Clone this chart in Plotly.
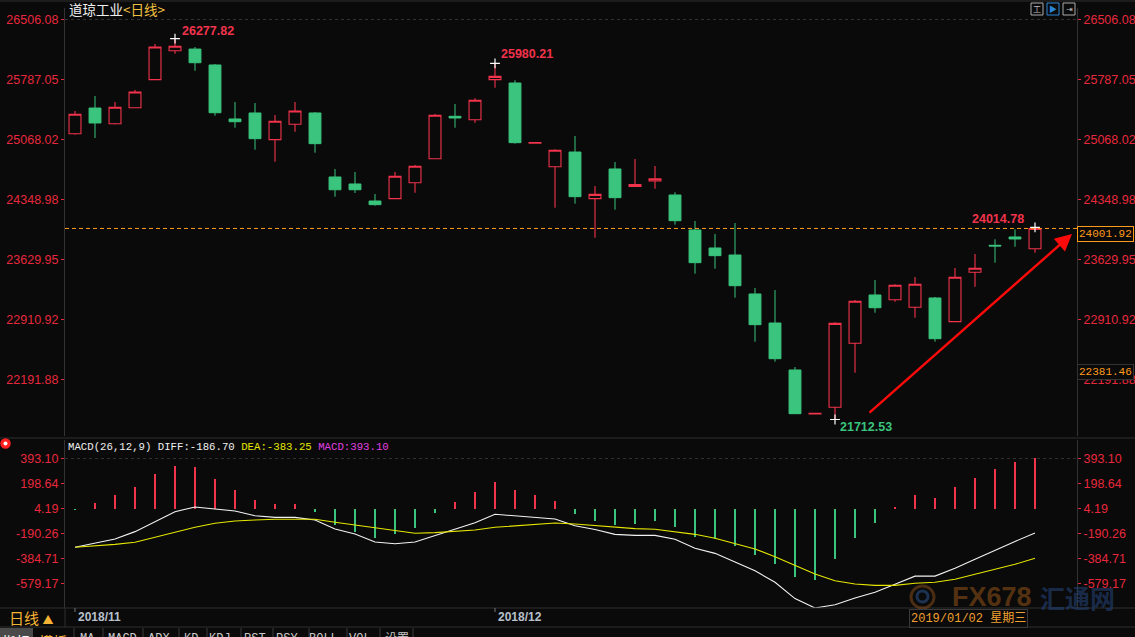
import plotly.graph_objects as go
from datetime import date

# ---------------- data ----------------
dates = (["2018-11-%02d" % d for d in [1, 2, 5, 6, 7, 8, 9, 12, 13, 14, 15, 16, 19, 20, 21, 23, 26, 27, 28, 29, 30]]
         + ["2018-12-%02d" % d for d in [3, 4, 5, 6, 7, 10, 11, 12, 13, 14, 17, 18, 19, 20, 21, 24, 25, 26, 27, 28, 31]]
         + ["2019-01-%02d" % d for d in [2, 3, 4, 7, 8, 9, 10]])

opens = [25137, 25445, 25257, 25449, 25785, 26132, 26152, 25961, 25314, 25386,
         25066, 25250, 25386, 24619, 24535, 24331, 24359, 24550, 24838, 25346,
         25305, 25785, 25745, 25024, 24742, 24918, 24359, 24715, 24505, 24570,
         24403, 23984, 23768, 23684, 23217, 22869, 22306, 21780, 21859, 22626,
         23205, 23148, 23057, 23169, 22885, 23477, 23800, 23900, 23759]
highs = [25410, 25589, 25517, 25661, 26212, 26277.82, 26176, 25973, 25517, 25505,
         25362, 25517, 25398, 24714, 24678, 24415, 24678, 24762, 25374, 25493,
         25562, 25980.21, 25778, 25030, 24951, 25110, 24511, 24798, 24834, 24750,
         24435, 24091, 23936, 24067, 23288, 23264, 22342, 21786, 22877, 23145,
         23384, 23333, 23420, 23181, 23528, 23696, 23872, 23992, 24014.78]
lows = [25125, 25086, 25248, 25445, 25781, 26096, 25892, 25353, 25209, 24946,
        24802, 25161, 24910, 24382, 24427, 24275, 24355, 24430, 24834, 25209,
        25269, 25689, 25018, 25024, 24251, 24299, 23891, 24227, 24502, 24478,
        24047, 23460, 23520, 23172, 22645, 22405, 21778, 21780, 21712.53, 22273,
        22992, 23124, 22933, 22645, 22881, 23304, 23592, 23783, 23711]
closes = [25370, 25266, 25454, 25637, 26176, 26185, 25988, 25389, 25281, 25078,
          25286, 25410, 25018, 24466, 24466, 24287, 24627, 24747, 25358, 25326,
          25538, 25825, 25030, 25030, 24939, 24383, 24411, 24371, 24527, 24597,
          24095, 23592, 23676, 23316, 22849, 22441, 21782, 21786, 22865, 23129,
          23052, 23321, 23333, 22681, 23417, 23525, 23792, 23876, 24001.92]

macd_hist = [-8, 49, 109, 171, 275, 334, 327, 233, 148, 70, 39, 39, -21, -124, -176,
             -223, -192, -145, -29, 57, 135, 210, 148, 109, 62, -39, -93, -124, -117,
             -93, -140, -218, -233, -285, -358, -425, -527, -552, -386, -223, -106, 16,
             109, 86, 171, 241, 311, 366, 393.10]
diff = [-298, -267, -233, -176, -98, -21, 16, -2, -16, -52, -65, -65, -86, -156, -194,
        -257, -270, -257, -205, -156, -107, -41, -54, -65, -78, -130, -160, -197, -205,
        -205, -235, -306, -345, -412, -480, -570, -697, -770, -745, -692, -648, -586,
        -522, -522, -460, -390, -318, -252, -186.70]
dea = [-298, -288, -275, -259, -220, -179, -142, -111, -93, -86, -80, -80, -80, -103,
       -124, -145, -166, -189, -184, -171, -163, -142, -130, -122, -109, -117, -130,
       -140, -153, -158, -179, -197, -228, -267, -311, -371, -438, -506, -558, -583,
       -594, -594, -578, -570, -547, -508, -469, -430, -383.25]

price_ticks = [26506.08, 25787.05, 25068.02, 24348.98, 23629.95, 22910.92, 22191.88]
macd_ticks = [393.10, 198.64, 4.19, -190.26, -384.71, -579.17]
cursor_index = 42
extra_price_label = 22381.46
tabs = ["MA", "MACD", "ADX", "KD", "KDJ", "RST", "PSY", "BOLL", "VOL", "设置"]

# ---------------- styling / geometry ----------------
W, H = 1135, 637
ML, MR = 65, 58
PW = W - ML - MR
BG = "#0a0a0a"
RED = "#f2334c"
LBL_RED = "#e8283c"
GREEN = "#3ac47d"
ORANGE = "#ff9a1a"
LINE = "#2e2e2e"


def pxp(x):
    return (x - ML) / PW


def pyp(y):
    return 1 - y / H


xs = list(range(len(dates)))
XR = [-0.5, 50.1]

fig = go.Figure()

fig.add_trace(go.Candlestick(
    x=xs, open=opens, high=highs, low=lows, close=closes,
    increasing=dict(line=dict(color=RED, width=1.1), fillcolor=BG),
    decreasing=dict(line=dict(color=GREEN, width=1), fillcolor=GREEN),
    whiskerwidth=0, hoverinfo="skip", showlegend=False, xaxis="x", yaxis="y"))

# white cross markers at marked extremes
i_max = highs.index(max(highs))
i_loc = highs.index(25980.21)
i_min = lows.index(min(lows))
i_last = len(xs) - 1
fig.add_trace(go.Scatter(
    x=[i_max, i_loc, i_min, i_last],
    y=[highs[i_max], highs[i_loc], lows[i_min], highs[i_last]],
    mode="markers", marker=dict(symbol="cross-thin", size=7,
                                line=dict(color="white", width=1.2)),
    hoverinfo="skip", showlegend=False, xaxis="x", yaxis="y"))

# dummy for right price axis
fig.add_trace(go.Scatter(x=[0], y=[closes[0]], mode="markers",
                         marker=dict(opacity=0), hoverinfo="skip",
                         showlegend=False, xaxis="x", yaxis="y3"))

# MACD histogram
fig.add_trace(go.Bar(
    x=xs, y=macd_hist, width=0.06,
    marker=dict(color=[RED if v >= 0 else GREEN for v in macd_hist], line=dict(width=0)),
    hoverinfo="skip", showlegend=False, xaxis="x2", yaxis="y2"))
fig.add_trace(go.Scatter(x=xs, y=diff, mode="lines", line=dict(color="#f2f2f2", width=1.1),
                         hoverinfo="skip", showlegend=False, xaxis="x2", yaxis="y2"))
fig.add_trace(go.Scatter(x=xs, y=dea, mode="lines", line=dict(color="#e6e600", width=1.1),
                         hoverinfo="skip", showlegend=False, xaxis="x2", yaxis="y2"))
fig.add_trace(go.Scatter(x=[0], y=[0], mode="markers", marker=dict(opacity=0),
                         hoverinfo="skip", showlegend=False, xaxis="x2", yaxis="y4"))

PRICE_RANGE = [21514.8, 26643.9]
MACD_RANGE = [-770.0, 536.7]
tickfont = dict(family="Liberation Sans, Arial", size=12.5, color=LBL_RED)
price_txt = ["%.2f" % v for v in price_ticks]
macd_txt = ["%.2f" % v for v in macd_ticks]

yaxis_common = dict(showgrid=False, zeroline=False, ticks="outside", ticklen=3,
                    tickcolor=LBL_RED, tickfont=tickfont, showline=True,
                    linecolor="#333333", linewidth=1, fixedrange=True)

fig.update_layout(
    width=W, height=H, margin=dict(l=ML, r=MR, t=0, b=0),
    paper_bgcolor=BG, plot_bgcolor=BG, boxgap=0.15, bargap=0,
    showlegend=False,
    xaxis=dict(domain=[0, 1], range=XR, visible=False, rangeslider=dict(visible=False),
               anchor="y", fixedrange=True),
    xaxis2=dict(domain=[0, 1], range=XR, visible=False, anchor="y2", fixedrange=True),
    yaxis=dict(domain=[pyp(436), pyp(8)], range=PRICE_RANGE, side="left", anchor="x",
               tickvals=price_ticks, ticktext=price_txt, **yaxis_common),
    yaxis3=dict(range=PRICE_RANGE, side="right", overlaying="y", anchor="x",
                tickvals=price_ticks, ticktext=price_txt, **yaxis_common),
    yaxis2=dict(domain=[pyp(608), pyp(440)], range=MACD_RANGE, side="left", anchor="x2",
                tickvals=macd_ticks, ticktext=macd_txt, **yaxis_common),
    yaxis4=dict(range=MACD_RANGE, side="right", overlaying="y2", anchor="x2",
                tickvals=macd_ticks, ticktext=macd_txt, **yaxis_common),
)

shapes = []
# panel separator lines
for yy in [1, 438, 608, 627]:
    shapes.append(dict(type="line", xref="paper", yref="paper", x0=pxp(0), x1=pxp(W),
                       y0=pyp(yy), y1=pyp(yy), line=dict(color=LINE, width=1)))
shapes.append(dict(type="line", xref="paper", yref="paper", x0=pxp(65), x1=pxp(65),
                   y0=pyp(608), y1=pyp(627), line=dict(color=LINE, width=1)))
# top dotted gridlines
shapes.append(dict(type="line", xref="paper", yref="y", x0=0, x1=1, y0=price_ticks[0],
                   y1=price_ticks[0], line=dict(color="#333333", width=1, dash="dot")))
shapes.append(dict(type="line", xref="paper", yref="y2", x0=0, x1=1, y0=macd_ticks[0],
                   y1=macd_ticks[0], line=dict(color="#333333", width=1, dash="dot")))
# last price dashed line
shapes.append(dict(type="line", xref="paper", yref="y", x0=0, x1=1, y0=closes[-1],
                   y1=closes[-1], line=dict(color=ORANGE, width=1, dash="4px,3px")))
# month ticks
month_starts = [i for i, d in enumerate(dates) if i == 0 or d[:7] != dates[i - 1][:7]]
for i in month_starts[:2]:
    shapes.append(dict(type="line", xref="x2", yref="paper", x0=i, x1=i,
                       y0=pyp(608), y1=pyp(612), line=dict(color="#777777", width=1)))
# left red icon
shapes.append(dict(type="circle", xref="paper", yref="paper", x0=pxp(1), x1=pxp(10),
                   y0=pyp(448), y1=pyp(439), line=dict(color="#ff2020", width=1.5),
                   fillcolor="#ff2020"))
shapes.append(dict(type="circle", xref="paper", yref="paper", x0=pxp(3.5), x1=pxp(7.5),
                   y0=pyp(445.5), y1=pyp(441.5), line=dict(width=0), fillcolor="white"))
# top-right buttons
for x0, col in [(1031, "#aaaaaa"), (1047, "#2a86d8"), (1063, "#aaaaaa")]:
    shapes.append(dict(type="rect", xref="paper", yref="paper", x0=pxp(x0), x1=pxp(x0 + 12),
                       y0=pyp(15), y1=pyp(3), line=dict(color=col, width=1), fillcolor=BG))
# bottom tab background
shapes.append(dict(type="rect", xref="paper", yref="paper", x0=pxp(0), x1=pxp(33),
                   y0=pyp(640), y1=pyp(628), line=dict(width=0), fillcolor="#4a4a4a"))
for sx in [74, 103, 143, 179, 207, 241, 273, 309, 347, 380, 413]:
    shapes.append(dict(type="line", xref="paper", yref="paper", x0=pxp(sx), x1=pxp(sx),
                       y0=pyp(628), y1=pyp(637), line=dict(color="#3a3a3a", width=1)))
# watermark logo
shapes.append(dict(type="circle", xref="paper", yref="paper", x0=pxp(911), x1=pxp(934),
                   y0=pyp(608), y1=pyp(586), line=dict(color="rgba(130,75,30,0.55)", width=3),
                   fillcolor="rgba(0,0,0,0)"))
shapes.append(dict(type="circle", xref="paper", yref="paper", x0=pxp(917), x1=pxp(928),
                   y0=pyp(602), y1=pyp(591), line=dict(color="rgba(40,70,120,0.65)", width=3),
                   fillcolor="rgba(0,0,0,0)"))
fig.update_layout(shapes=shapes)

ann = []
CJK = "Noto Sans CJK SC"
MONO = "Liberation Mono, DejaVu Sans Mono, Noto Sans CJK SC"
# title
ann.append(dict(xref="paper", yref="paper", x=pxp(67), y=pyp(9), xanchor="left", yanchor="middle",
                text="道琼工业<span style='color:#f0c040'>&lt;日线&gt;</span>", showarrow=False,
                font=dict(family=CJK, size=13.5, color="#f0f0f0")))
# price annotations
bold = dict(family="Liberation Sans, Arial", size=12.5)
ann.append(dict(x=i_max, y=highs[i_max], xref="x", yref="y", xanchor="left", yanchor="middle",
                xshift=5, yshift=8, showarrow=False, text="<b>%.2f</b>" % highs[i_max],
                font=dict(color=RED, **bold)))
ann.append(dict(x=i_loc, y=highs[i_loc], xref="x", yref="y", xanchor="left", yanchor="middle",
                xshift=4, yshift=9, showarrow=False, text="<b>%.2f</b>" % highs[i_loc],
                font=dict(color=RED, **bold)))
ann.append(dict(x=i_last, y=highs[i_last], xref="x", yref="y", xanchor="right", yanchor="middle",
                xshift=-9, yshift=8, showarrow=False, text="<b>%.2f</b>" % highs[i_last],
                font=dict(color=RED, **bold)))
ann.append(dict(x=i_min, y=lows[i_min], xref="x", yref="y", xanchor="left", yanchor="middle",
                xshift=3, yshift=-7, showarrow=False, text="<b>%.2f</b>" % lows[i_min],
                font=dict(color=GREEN, **bold)))
# red arrow
ann.append(dict(x=49.85, y=23935.5, xref="x", yref="y", ax=39.65, ay=21778, axref="x", ayref="y",
                showarrow=True, arrowhead=2, arrowsize=1.4, arrowwidth=2.4, arrowcolor="#ff0a0a",
                text=""))
# right price boxes
ann.append(dict(xref="paper", yref="y", x=1, y=closes[-1], xanchor="left", yanchor="middle",
                xshift=0, yshift=-6, showarrow=False, text="%.2f" % closes[-1],
                font=dict(family=MONO, size=11, color=ORANGE), bordercolor=ORANGE,
                borderwidth=1, borderpad=1, bgcolor=BG))
ann.append(dict(xref="paper", yref="y", x=1, y=extra_price_label, xanchor="left", yanchor="top",
                xshift=0, showarrow=False, text="%.2f" % extra_price_label,
                font=dict(family=MONO, size=11, color=ORANGE), bordercolor="#333333",
                borderwidth=1, borderpad=1, bgcolor=BG))
# MACD title
ann.append(dict(xref="paper", yref="paper", x=pxp(66), y=pyp(447), xanchor="left", yanchor="middle",
                showarrow=False, font=dict(family=MONO, size=10.7, color="#f0f0f0"),
                text=("MACD(26,12,9) DIFF:%.2f <span style='color:#e6e600'>DEA:%.2f</span> "
                      "<span style='color:#e040e0'>MACD:%.2f</span>") % (diff[-1], dea[-1], macd_hist[-1])))
# month labels
for i in month_starts[:2]:
    d = dates[i]
    ann.append(dict(xref="x2", yref="paper", x=i, y=pyp(617), xanchor="left", yanchor="middle",
                    xshift=1, showarrow=False, text="<b>%s/%s</b>" % (d[:4], d[5:7]),
                    font=dict(family="Liberation Sans, Arial", size=12, color="#b8c0cc")))
# cursor date box
cd = date.fromisoformat(dates[cursor_index])
wk = "一二三四五六日"[cd.weekday()]
ann.append(dict(xref="paper", yref="paper", x=pxp(968), y=pyp(618), xanchor="center", yanchor="middle",
                showarrow=False, text="%s 星期%s" % (cd.strftime("%Y/%m/%d"), wk),
                font=dict(family=MONO, size=12, color="#f0a030"), bordercolor="#3a3a3a",
                borderwidth=1, borderpad=1, bgcolor="rgba(10,10,10,0.6)"))
# watermark
ann.append(dict(xref="paper", yref="paper", x=pxp(992), y=pyp(597), xanchor="center", yanchor="middle",
                showarrow=False, text="<b>FX678</b>",
                font=dict(family="Liberation Sans, Arial", size=27, color="rgba(150,85,25,0.55)")))
ann.append(dict(xref="paper", yref="paper", x=pxp(1077), y=pyp(597), xanchor="center", yanchor="middle",
                showarrow=False, text="<b>汇通网</b>",
                font=dict(family=CJK, size=25, color="rgba(35,65,115,0.6)")))
# left period label
ann.append(dict(xref="paper", yref="paper", x=pxp(7), y=pyp(617), xanchor="left", yanchor="middle",
                showarrow=False, text="日线 <span style='font-size:11px'>▲</span>",
                font=dict(family=CJK, size=15, color="#f5b335")))
# top-right button glyphs
for cx, g, col in [(1037, "工", "#bbbbbb"), (1053, "▶", "#2a86d8"), (1069, "⇥", "#bbbbbb")]:
    ann.append(dict(xref="paper", yref="paper", x=pxp(cx), y=pyp(9), xanchor="center",
                    yanchor="middle", showarrow=False, text=g,
                    font=dict(family=CJK, size=8, color=col)))
# bottom tabs
ann.append(dict(xref="paper", yref="paper", x=pxp(16), y=pyp(629), xanchor="center", yanchor="top",
                showarrow=False, text="指标", font=dict(family=CJK, size=14, color="#ffffff")))
ann.append(dict(xref="paper", yref="paper", x=pxp(53), y=pyp(629), xanchor="center", yanchor="top",
                showarrow=False, text="模板", font=dict(family=CJK, size=14, color="#f5b335")))
tab_x = [87, 122, 159, 191, 220, 255, 287, 323, 360, 397]
for t, tx in zip(tabs, tab_x):
    ann.append(dict(xref="paper", yref="paper", x=pxp(tx), y=pyp(630), xanchor="center",
                    yanchor="top", showarrow=False, text=t,
                    font=dict(family=MONO, size=12, color="#c8c8c8")))
fig.update_layout(annotations=ann)

fig.write_html("out.html", config=dict(displayModeBar=False, staticPlot=True),
               post_script="document.body.style.margin='0';document.body.style.padding='0';"
                           "document.body.style.overflow='hidden';"
                           "document.body.style.background='#0a0a0a';")
